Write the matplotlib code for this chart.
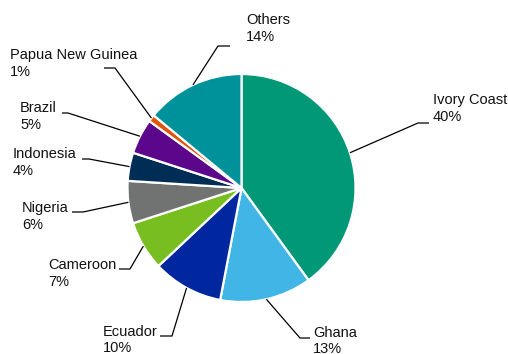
import numpy as np
import matplotlib.pyplot as plt

# =====================================================
# DATA
# =====================================================

countries = [
    "Ivory Coast", "Ghana", "Ecuador", "Cameroon", "Nigeria",
    "Indonesia", "Brazil", "Papua New Guinea", "Others",
]
shares = [40, 13, 10, 7, 6, 4, 5, 1, 14]

colors = [
    "#009877", "#41B6E6", "#0027A0", "#78BE20", "#707372",
    "#002D56", "#5C068C", "#E35205", "#00929B",
]

# =====================================================
# LAYOUT (image pixel coords, y down)
# =====================================================

W, H = 508, 354
CX, CY, R = 241.5, 188, 114

# text left x, text block centre y, elbow point, line end point
label_layout = {
    "Ivory Coast": (433, 108.5, (418, 123), (429, 123)),
    "Ghana": (313, 341, (300, 338), (310, 338)),
    "Ecuador": (103, 340, (172, 336), (160, 336)),
    "Cameroon": (48, 273.5, (130, 269), (119, 269)),
    "Nigeria": (22, 216.5, (83, 212), (72, 212)),
    "Indonesia": (13, 162.5, (89, 159), (82, 159)),
    "Brazil": (20, 116.5, (68, 113), (62, 113)),
    "Papua New Guinea": (10, 63.5, (115, 68), (104, 68)),
    "Others": (246, 28.5, (218, 46), (230, 46)),
}

plt.rcParams["font.family"] = ["Liberation Sans", "DejaVu Sans"]

fig = plt.figure(figsize=(W / 100, H / 100), dpi=100)
ax = fig.add_axes([0, 0, 1, 1])

ax.pie(
    shares,
    colors=colors,
    startangle=90,
    counterclock=False,
    center=(CX, H - CY),
    radius=R,
    wedgeprops=dict(edgecolor="white", linewidth=1.6),
)

ax.set_xlim(0, W)
ax.set_ylim(0, H)
ax.set_aspect("auto")
ax.axis("off")

# leader lines + labels
cum = 0
for name, val in zip(countries, shares):
    mid = 90 - (cum + val / 2) / sum(shares) * 360
    cum += val
    a = np.deg2rad(mid)
    sx = CX + R * np.cos(a)
    sy = CY - R * np.sin(a)

    tx, ty, (ex, ey), (fx, fy) = label_layout[name]

    ax.plot(
        [sx, ex, fx],
        [H - sy, H - ey, H - fy],
        color="black",
        linewidth=0.9,
        solid_capstyle="butt",
    )

    ax.text(
        tx, H - ty,
        f"{name}\n{val}%",
        ha="left",
        va="center",
        fontsize=10.5,
        linespacing=1.25,
        color="#111111",
    )

fig.savefig("out.png", dpi=100)
